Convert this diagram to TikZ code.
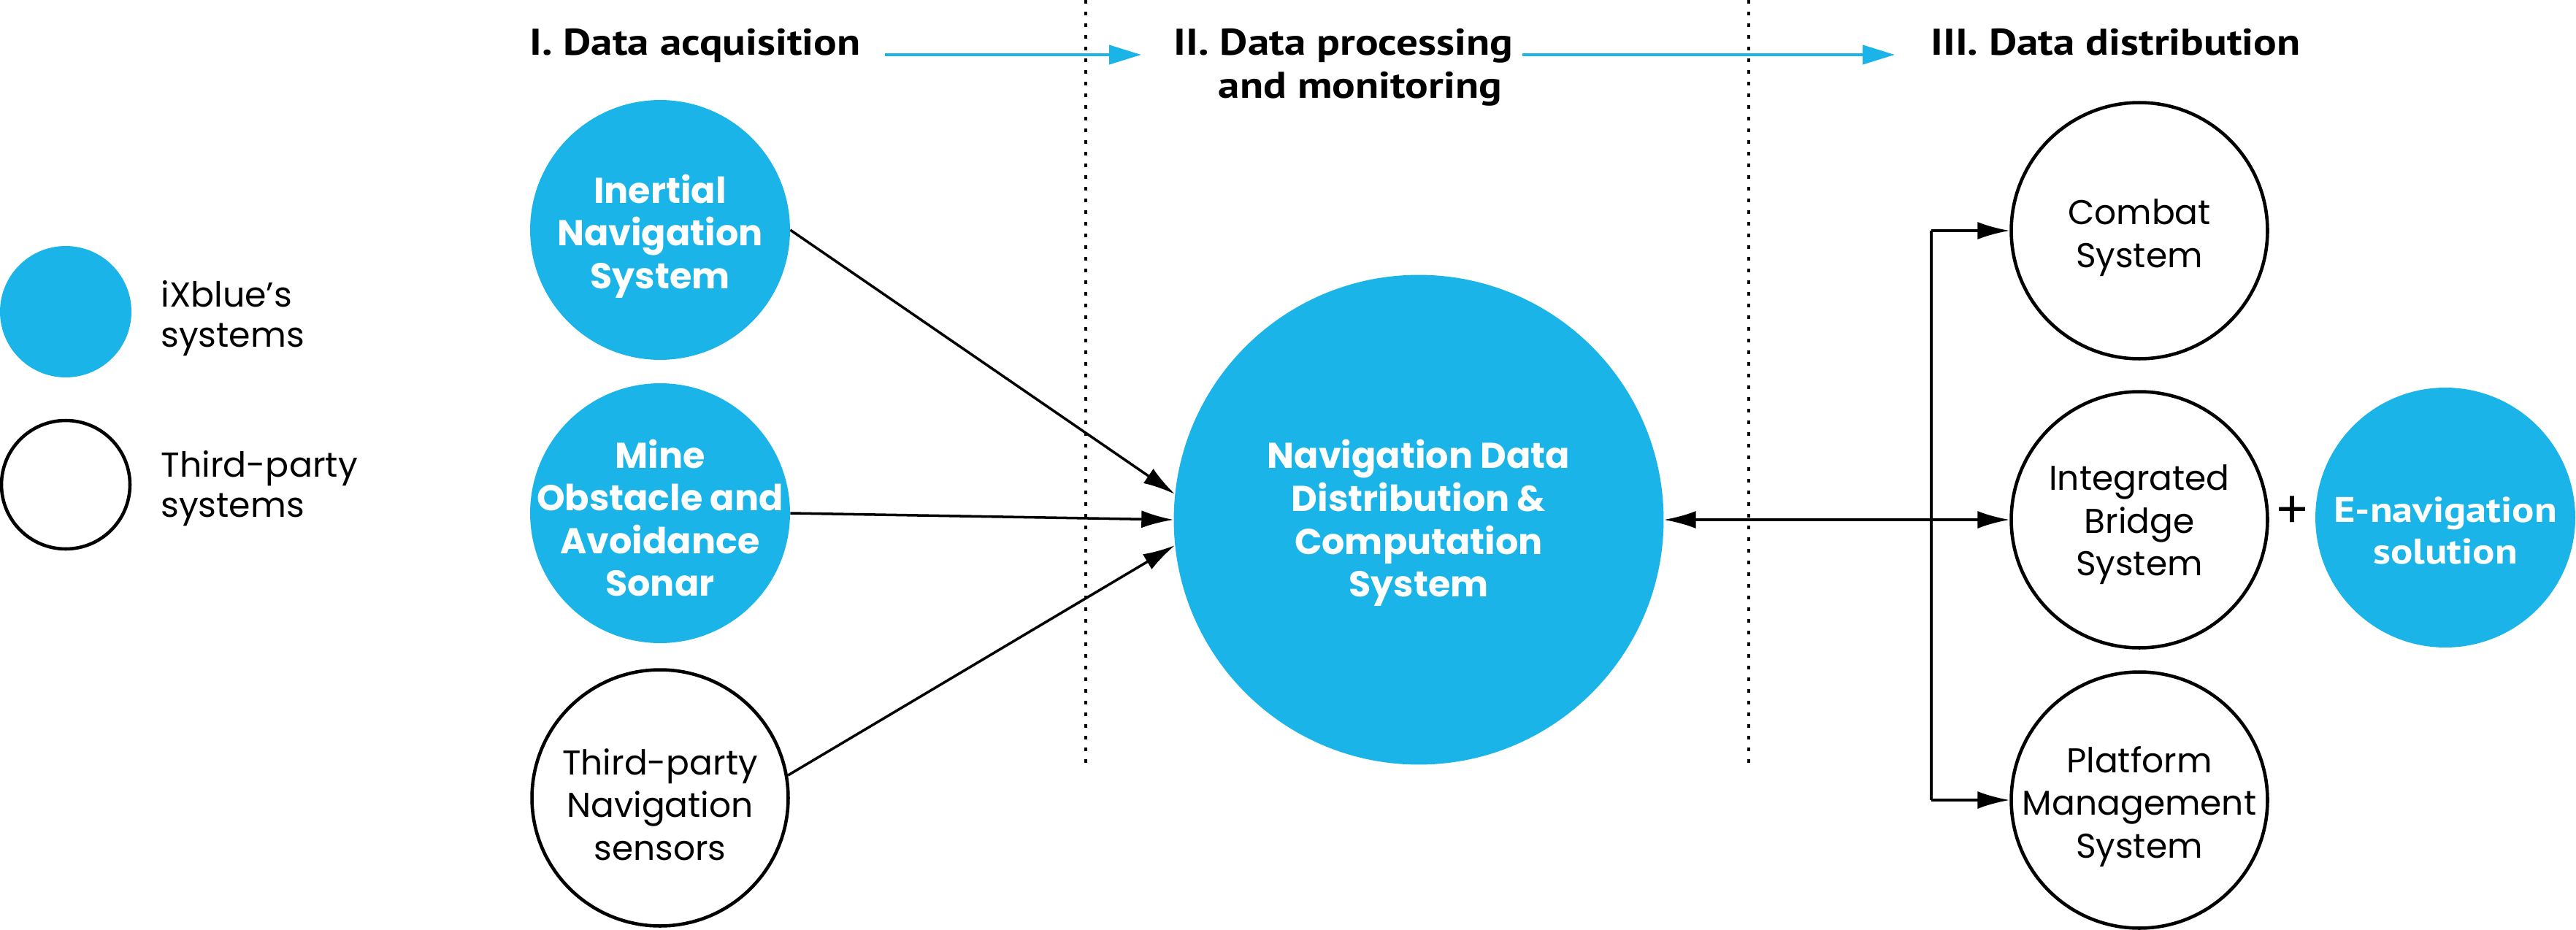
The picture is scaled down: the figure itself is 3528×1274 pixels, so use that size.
\documentclass[tikz,border=0pt]{standalone}
\usepackage{fontspec}
\setmainfont{Poppins}
\newfontfamily\hdrfont[FakeStretch=1.16]{PT Sans}
\usetikzlibrary{arrows.meta}
\definecolor{ixblue}{RGB}{27,180,232}
\newdimen\pxu \pxu=0.5690551pt
\begin{document}
\begin{tikzpicture}[x=0.02cm,y=-0.02cm,
  ctext/.style={align=center,inner sep=-40pt,text depth=9pt},
  bluecirc/.style={circle,fill=ixblue,ctext,minimum size=#1\pxu,text=white,
    font=\fontsize{28}{33.3}\selectfont\bfseries},
  whitecirc/.style={circle,draw=black,line width=2.6pt,fill=white,ctext,
    minimum size=#1\pxu,font=\fontsize{26.8}{33.3}\selectfont},
  hdr/.style={font=\hdrfont\bfseries\fontsize{29}{33}\selectfont,inner sep=0pt,align=center},
  legtext/.style={font=\fontsize{27}{31.3}\selectfont,inner sep=0pt,align=left,anchor=base west},
  conn/.style={line width=2pt,-{Latex[length=25pt,width=13.7pt]}},
  biconn/.style={line width=2pt,{Latex[length=25pt,width=13.7pt]}-{Latex[length=25pt,width=13.7pt]}},
  busline/.style={line width=2pt},
  flowarrow/.style={draw=ixblue,line width=2.3pt,-{Triangle[length=25pt,width=14.8pt]},fill=ixblue},
  sepline/.style={line width=2.3pt,dash pattern=on 2.85pt off 6.26pt}
]
\useasboundingbox (0,0) rectangle (3528,1274);

% legend
\node[circle,fill=ixblue,inner sep=0pt,minimum size=180\pxu] (legblue) at (90,427) {};
\node[circle,draw=black,line width=2.6pt,fill=white,inner sep=0pt,minimum size=176\pxu] (legwhite) at (90,664) {};
\node[legtext] (legbluetxt) at (220,475) {iXblue’s\\systems};
\node[legtext] (legwhitetxt) at (220,708) {Third-party\\systems};

% headers
\node[hdr,anchor=base west] (h1) at (725,76) {I. Data acquisition};
\node[hdr,anchor=base] (h2a) at (1840,76) {II. Data processing};
\node[hdr,anchor=base] (h2b) at (1863,134) {and monitoring};
\node[hdr,anchor=base west] (h3) at (2644,76) {III. Data distribution};

\coordinate (a1s) at (1212,75);
\coordinate (a1e) at (1563,75);
\coordinate (a2s) at (2085,75);
\coordinate (a2e) at (2595,75);
\draw[flowarrow] (a1s) -- (a1e);
\draw[flowarrow] (a2s) -- (a2e);

% separators
\coordinate (s1t) at (1487,0);
\coordinate (s1b) at (1487,1045);
\coordinate (s2t) at (2395,0);
\coordinate (s2b) at (2395,1045);
\draw[sepline] (s1t) -- (s1b);
\draw[sepline] (s2t) -- (s2b);

% acquisition
\node[bluecirc=356,text height=100.4pt] (ins) at (904,315) {Inertial\\Navigation\\System};
\node[bluecirc=356,text height=138.7pt] (moas) at (904,703) {Mine\\Obstacle and\\Avoidance\\Sonar};
\node[whitecirc=351,text height=105.8pt] (tps) at (904,1093) {Third-party\\Navigation\\sensors};

% processing
\node[bluecirc=671,text height=129.1pt] (ndd) at (1943,712) {Navigation Data\\Distribution \&\\Computation\\System};

% distribution
\node[whitecirc=351,text height=66.3pt] (cs) at (2930,316) {Combat\\System};
\node[whitecirc=351,text height=96.6pt] (ibs) at (2930,712) {Integrated\\Bridge\\System};
\node[whitecirc=351,text height=99pt] (pms) at (2930,1096) {Platform\\Management\\System};
\node[font=\fontsize{40}{40}\selectfont,inner sep=0pt] (plus) at (3139,702) {+};
\node[bluecirc=356,text height=81.3pt,font=\hdrfont\bfseries\fontsize{27.8}{32.4}\selectfont] (enav) at (3349,709) {E-navigation\\solution};

% connectors
\draw[conn] (ins.east) -- (ndd.174);
\draw[conn] (moas.east) -- (ndd.180);
\draw[conn] (tps.10) -- (ndd.186);

\coordinate (bus) at (2645,712);
\draw[biconn] (ndd.east) -- (ibs.west);
\draw[busline] (bus |- cs.west) -- (bus |- pms.west);
\draw[conn] (bus |- cs.west) -- (cs.west);
\draw[conn] (bus |- pms.west) -- (pms.west);
\end{tikzpicture}
\end{document}
